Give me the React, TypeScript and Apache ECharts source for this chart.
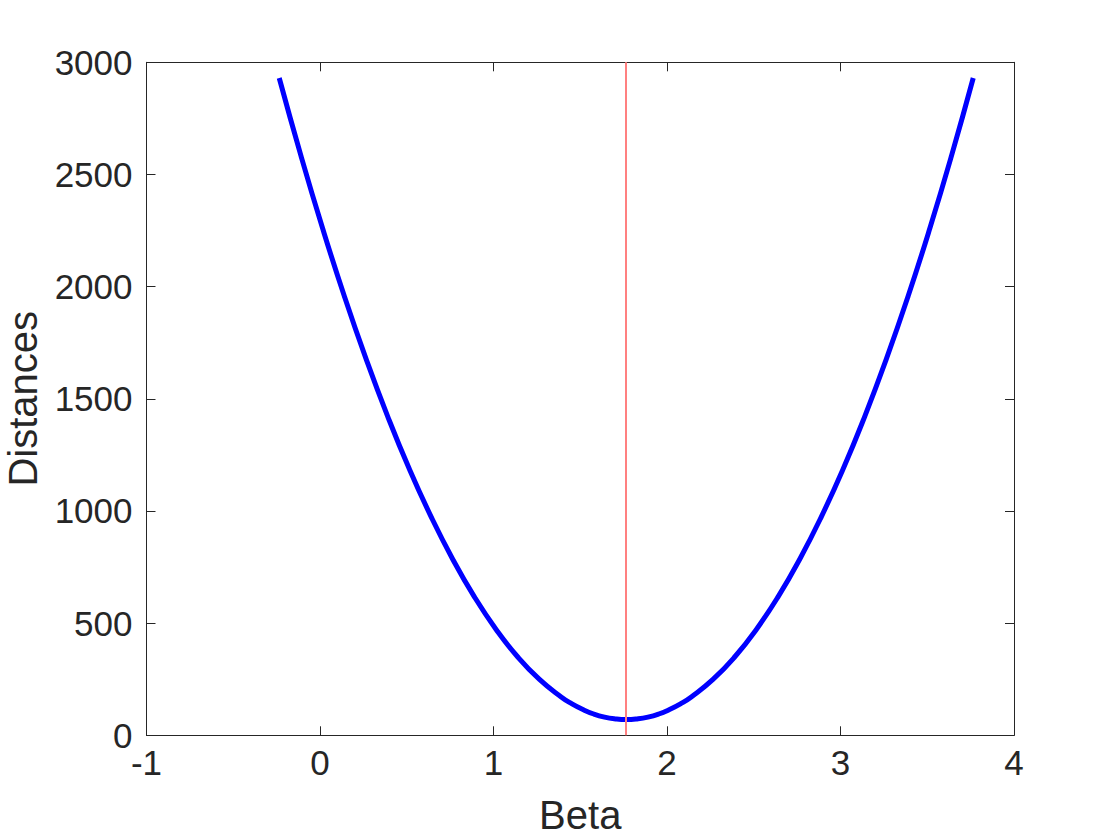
import React, { useEffect, useRef } from "react";
import * as echarts from "echarts";

const betaValues = [
  -0.235, -0.11, 0.015, 0.14, 0.265, 0.39, 0.515, 0.64, 0.765, 0.89, 1.015,
  1.14, 1.265, 1.39, 1.4525, 1.515, 1.5775, 1.64, 1.7025, 1.765, 1.8275, 1.89,
  1.9525, 2.015, 2.0775, 2.14, 2.265, 2.39, 2.515, 2.64, 2.765, 2.89, 3.015,
  3.14, 3.265, 3.39, 3.515, 3.64, 3.765,
];
const distanceValues = [
  2930, 2584, 2260, 1958, 1679, 1422, 1187, 975, 785, 617, 472, 349, 249, 171,
  140, 115, 95, 81, 73, 70, 73, 81, 95, 115, 140, 171, 249, 349, 472, 617, 785,
  975, 1187, 1422, 1679, 1958, 2260, 2584, 2930,
];
const minBeta = 1.765;
const xTicks = { min: -1, max: 4, interval: 1 };
const yTicks = { min: 0, max: 3000, interval: 500 };

const FONT = "'Liberation Sans', Arial, Helvetica, sans-serif";
const INK = "#262626";

export default function App() {
  const ref = useRef<HTMLDivElement>(null);
  useEffect(() => {
    if (!ref.current) return;
    const chart = echarts.init(ref.current, null, { renderer: "svg" });
    const axisCommon = {
      type: "value" as const,
      axisLine: { show: true, onZero: false, lineStyle: { color: INK, width: 1 } },
      axisTick: { show: true, inside: true, length: 9, lineStyle: { color: INK, width: 1 } },
      splitLine: { show: false },
    };
    chart.setOption({
      animation: false,
      backgroundColor: "#ffffff",
      textStyle: { fontFamily: FONT },
      grid: {
        left: 146.5,
        right: 106,
        top: 62.3,
        bottom: 104.7,
        containLabel: false,
        outerBoundsMode: "none",
      },
      xAxis: [
        {
          ...axisCommon,
          ...xTicks,
          position: "bottom",
          axisLabel: { fontSize: 35, color: INK, margin: 10, fontFamily: FONT },
          name: "Beta",
          nameLocation: "middle",
          nameGap: 60,
          nameTextStyle: { fontSize: 40, color: INK, fontFamily: FONT },
        },
        {
          ...axisCommon,
          ...xTicks,
          position: "top",
          axisLabel: { show: false },
        },
      ],
      yAxis: [
        {
          ...axisCommon,
          ...yTicks,
          position: "left",
          axisLabel: {
            fontSize: 35,
            color: INK,
            margin: 14,
            fontFamily: FONT,
            formatter: (v: number) => String(v),
          },
          name: "Distances",
          nameLocation: "middle",
          nameGap: 104,
          nameTextStyle: { fontSize: 40, color: INK, fontFamily: FONT },
        },
        {
          ...axisCommon,
          ...yTicks,
          position: "right",
          axisLabel: { show: false },
        },
      ],
      series: [
        {
          type: "line",
          xAxisIndex: 0,
          yAxisIndex: 0,
          data: betaValues.map((b, i) => [b, distanceValues[i]]),
          smooth: true,
          showSymbol: false,
          symbol: "none",
          lineStyle: { color: "#0000ff", width: 5 },
          markLine: {
            silent: true,
            symbol: "none",
            label: { show: false },
            lineStyle: { color: "#ff8080", width: 2, type: "solid" },
            data: [{ xAxis: minBeta }],
          },
        },
      ],
    });
    return () => chart.dispose();
  }, []);
  return (
    <div
      ref={ref}
      style={{ position: "fixed", left: 0, top: 0, width: 1120, height: 840, background: "#fff" }}
    />
  );
}
